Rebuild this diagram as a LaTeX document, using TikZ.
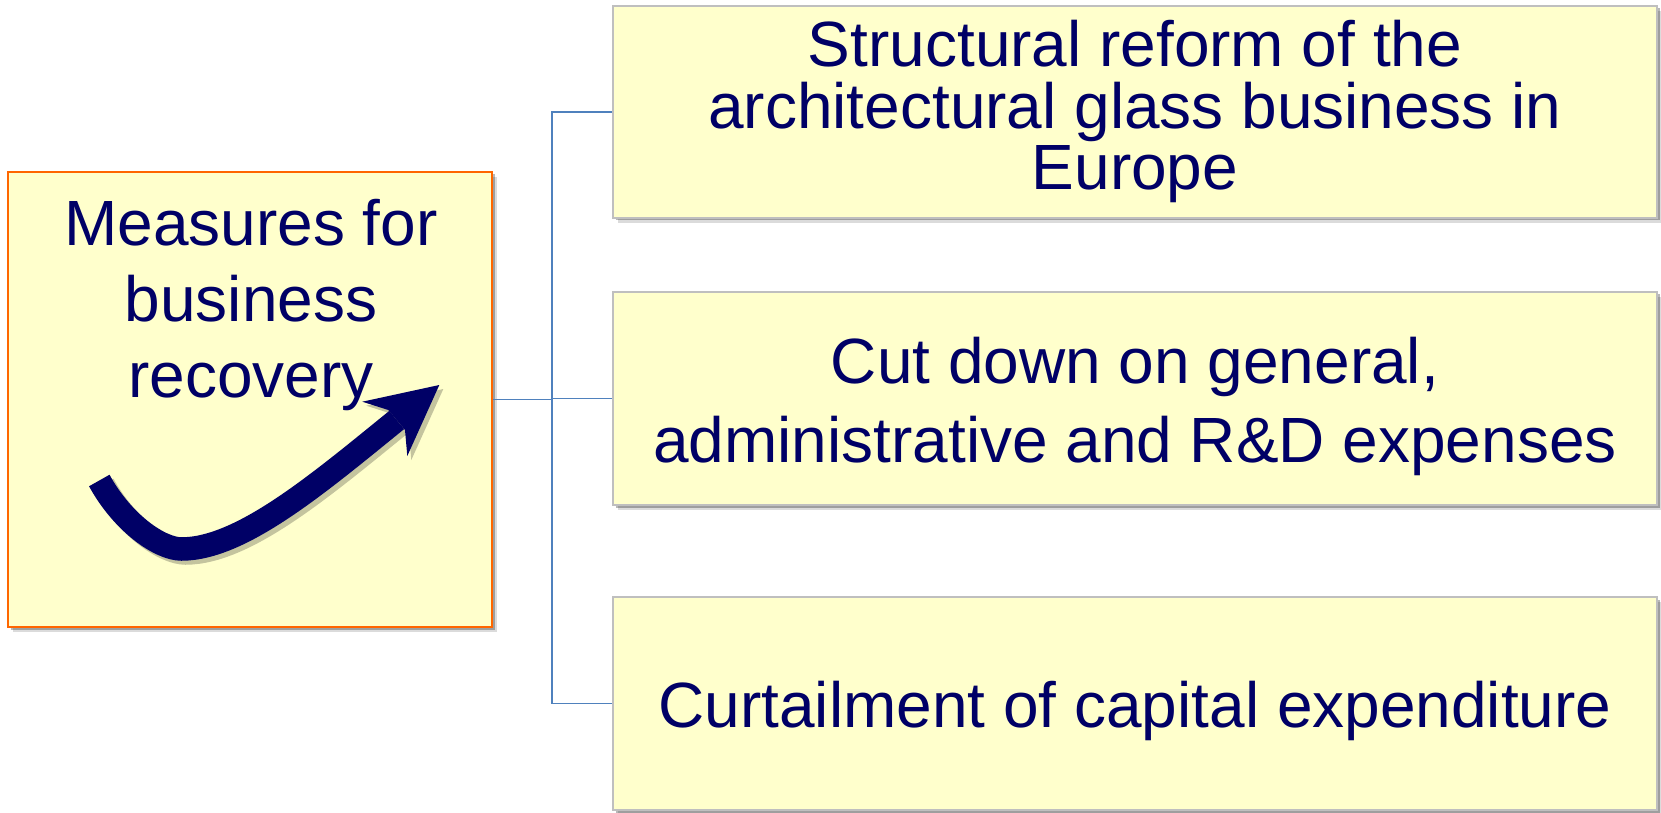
\documentclass[tikz,border=0pt]{standalone}
\usepackage{fontspec}
\setmainfont{Liberation Sans}
\usetikzlibrary{shadows,positioning}
\definecolor{navy}{RGB}{0,0,102}
\definecolor{paleyellow}{RGB}{255,255,204}
\definecolor{boxgrey}{RGB}{191,191,191}
\definecolor{leadorange}{RGB}{255,102,0}
\definecolor{linkblue}{RGB}{79,129,189}
\definecolor{arrowshade}{RGB}{196,196,158}
\tikzset{
  card/.style={draw=boxgrey, line width=1.1pt, fill=paleyellow, inner sep=0pt,
    minimum width=20.88cm, minimum height=4.26cm,
    drop shadow={shadow xshift=0.05cm, shadow yshift=-0.05cm, fill=black, opacity=0.28},
    drop shadow={shadow xshift=0.1cm, shadow yshift=-0.1cm, fill=black, opacity=0.14}},
  leadcard/.style={card, draw=leadorange, line width=1.3pt, minimum width=9.68cm, minimum height=9.1cm},
  cardtext/.style={text=navy, align=center, inner sep=0pt,
    font=\fontsize{36.4pt}{#1}\selectfont},
  link/.style={draw=linkblue, line width=1pt},
  arrowshadow/.style={arrowshade},
  arrowbody/.style={navy}
}
\begin{document}
\begin{tikzpicture}
\useasboundingbox (0,0) rectangle (33.22,16.24);
% boxes
\node[leadcard] (lead) at (5.0,8.25) {};
\node[card, minimum height=4.24cm] (reform) at (22.7,14.0) {};
\node[card] (costs) at (22.7,8.27) {};
\node[card] (capex) at (22.7,2.17) {};
% rising arrow, shadow first
\foreach \dx/\look in {0.08/arrowshadow, 0/arrowbody}{
  \begin{scope}[xshift=\dx cm, yshift=-\dx cm]
  \draw[\look, line width=0.47cm] (1.986,6.63) .. controls (2.45,5.78) and (3.2,5.26) .. (3.63,5.26)
    .. controls (4.83,5.26) and (6.38,6.58) .. (7.934,7.84);
  \fill[\look] (8.786,8.54) -- (7.246,8.206) -- (7.766,8.04) -- (8.10,7.64) -- (8.146,7.12) -- cycle;
  \end{scope}
}
% texts
\node[cardtext=43.25pt] (leadtext) at (5.02,10.15) {Measures for\\business\\recovery};
\node[cardtext=35.1pt] (reformtext) at (22.7,14.01) {Structural reform of the\\architectural glass business in\\Europe};
\node[cardtext=44.96pt] (coststext) at (22.7,8.12) {Cut down on general,\\administrative and R\&D expenses};
\node[cardtext=36pt] (capextext) at (22.7,2.02) {Curtailment of capital expenditure};
% connectors
\coordinate (fork) at (11.04,8.25);
\draw[link] (lead.east) -- (fork);
\foreach \card in {reform,costs,capex}
  \draw[link] (fork) |- (\card.west);
\end{tikzpicture}
\end{document}
